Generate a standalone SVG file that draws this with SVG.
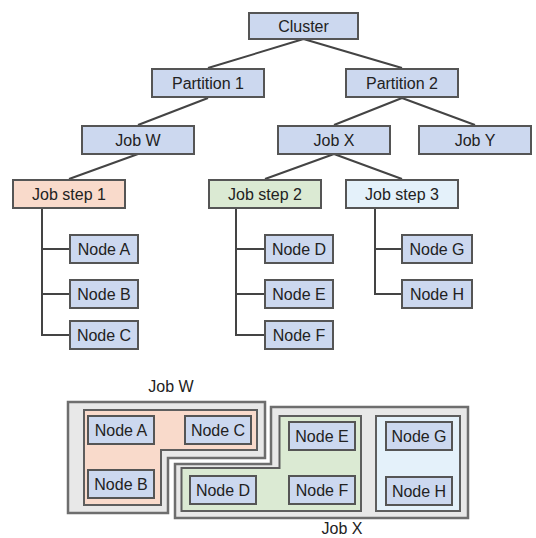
<svg xmlns="http://www.w3.org/2000/svg" width="536" height="538" viewBox="0 0 536 538">
<style>
  .box { fill: #ccd8ef; stroke: #555; stroke-width: 2; }
  .s1 { fill: #f9dacb; stroke: #555; stroke-width: 2; }
  .s2 { fill: #dbead3; stroke: #555; stroke-width: 2; }
  .s3 { fill: #e4f1fa; stroke: #555; stroke-width: 2; }
  .outer { fill: #e8e8e8; stroke: #6e6e6e; stroke-width: 2.5; }
  .in1 { fill: #f9dacb; stroke: #5e5e5e; stroke-width: 2; }
  .in2 { fill: #dbead3; stroke: #5e5e5e; stroke-width: 2; }
  .in3 { fill: #e4f1fa; stroke: #5e5e5e; stroke-width: 2; }
  .lbl { font-family: "Liberation Sans", Arial, sans-serif; font-size: 16px; fill: #222; text-anchor: middle; }
  .edge { fill: none; stroke: #444; stroke-width: 2; }
</style>
<rect width="536" height="538" fill="#ffffff"/>

<g id="connectors">
  <path class="edge" d="M303.5,39 L208,68 M303.5,39 L402,68"/>
  <path class="edge" d="M208,98 L138,125"/>
  <path class="edge" d="M402,98 L334,125 M402,98 L475,125"/>
  <path class="edge" d="M138,154 L69,179"/>
  <path class="edge" d="M334,154 L265,179 M334,154 L402,179"/>
  <path class="edge" d="M42,209 V335 H69 M42,249 H69 M42,294 H69"/>
  <path class="edge" d="M236,209 V335 H264 M236,249 H264 M236,294 H264"/>
  <path class="edge" d="M375,209 V294 H401 M375,249 H401"/>
</g>

<g id="cluster"><rect class="box" x="249" y="13" width="109" height="26"/><text class="lbl" x="303.5" y="32">Cluster</text></g>
<g id="partition1"><rect class="box" x="152" y="69" width="112" height="28"/><text class="lbl" x="208" y="89">Partition 1</text></g>
<g id="partition2"><rect class="box" x="346" y="69" width="112" height="28"/><text class="lbl" x="402" y="89">Partition 2</text></g>
<g id="jobW"><rect class="box" x="82" y="126" width="112" height="28"/><text class="lbl" x="138" y="146">Job W</text></g>
<g id="jobX"><rect class="box" x="278" y="126" width="112" height="28"/><text class="lbl" x="334" y="146">Job X</text></g>
<g id="jobY"><rect class="box" x="419" y="126" width="112" height="28"/><text class="lbl" x="475" y="146">Job Y</text></g>
<g id="step1"><rect class="s1" x="13" y="180" width="112" height="28"/><text class="lbl" x="69" y="200">Job step 1</text></g>
<g id="step2"><rect class="s2" x="209" y="180" width="112" height="28"/><text class="lbl" x="265" y="200">Job step 2</text></g>
<g id="step3"><rect class="s3" x="346" y="180" width="112" height="28"/><text class="lbl" x="402" y="200">Job step 3</text></g>

<g id="nodeA"><rect class="box" x="70" y="235" width="68" height="28"/><text class="lbl" x="104" y="255">Node A</text></g>
<g id="nodeB"><rect class="box" x="70" y="280" width="68" height="28"/><text class="lbl" x="104" y="300">Node B</text></g>
<g id="nodeC"><rect class="box" x="70" y="321" width="68" height="28"/><text class="lbl" x="104" y="341">Node C</text></g>
<g id="nodeD"><rect class="box" x="265" y="235" width="68" height="28"/><text class="lbl" x="299" y="255">Node D</text></g>
<g id="nodeE"><rect class="box" x="265" y="280" width="68" height="28"/><text class="lbl" x="299" y="300">Node E</text></g>
<g id="nodeF"><rect class="box" x="265" y="321" width="68" height="28"/><text class="lbl" x="299" y="341">Node F</text></g>
<g id="nodeG"><rect class="box" x="402" y="235" width="70" height="28"/><text class="lbl" x="437" y="255">Node G</text></g>
<g id="nodeH"><rect class="box" x="402" y="280" width="70" height="28"/><text class="lbl" x="437" y="300">Node H</text></g>

<g id="jobW-area">
  <text class="lbl" x="171" y="392">Job W</text>
  <path class="outer" d="M68,402 H265 V458 H168 V513 H68 Z"/>
  <path class="in1" d="M84,410 H257 V450 H161 V505 H84 Z"/>
</g>
<g id="jobX-area">
  <path class="outer" d="M175,464 H271 V407 H468 V518 H175 Z"/>
  <path class="in2" d="M181.5,468 H279.5 V416 H361 V511 H181.5 Z"/>
  <rect class="in3" x="376" y="416" width="84" height="95"/>
  <text class="lbl" x="342" y="534">Job X</text>
</g>

<g id="mapA"><rect class="box" x="88" y="416" width="66" height="28"/><text class="lbl" x="121" y="436">Node A</text></g>
<g id="mapC"><rect class="box" x="185" y="416" width="66" height="28"/><text class="lbl" x="218" y="436">Node C</text></g>
<g id="mapB"><rect class="box" x="88" y="470" width="66" height="28"/><text class="lbl" x="121" y="490">Node B</text></g>
<g id="mapD"><rect class="box" x="190" y="476" width="66" height="28"/><text class="lbl" x="223" y="496">Node D</text></g>
<g id="mapE"><rect class="box" x="289" y="422" width="66" height="28"/><text class="lbl" x="322" y="442">Node E</text></g>
<g id="mapF"><rect class="box" x="289" y="476" width="66" height="28"/><text class="lbl" x="322" y="496">Node F</text></g>
<g id="mapG"><rect class="box" x="386" y="422" width="66" height="28"/><text class="lbl" x="419" y="442">Node G</text></g>
<g id="mapH"><rect class="box" x="386" y="477" width="66" height="28"/><text class="lbl" x="419" y="497">Node H</text></g>
</svg>
